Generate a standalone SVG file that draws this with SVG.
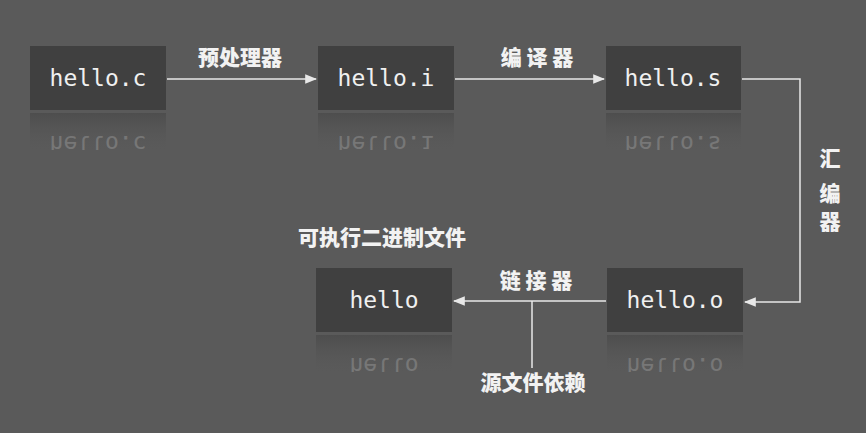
<svg xmlns="http://www.w3.org/2000/svg" width="866" height="433" viewBox="0 0 866 433">
<style>
.box{fill:#404040}
.t{font-family:"DejaVu Sans Mono","Liberation Mono",monospace;font-size:23px;fill:#f0f0f0;text-anchor:middle}
.r{font-family:"DejaVu Sans Mono","Liberation Mono",monospace;font-size:23px;fill:#f0f0f0;text-anchor:middle;opacity:0.2}
.lb{font-family:"Noto Sans CJK SC",sans-serif;font-size:21px;font-weight:900;fill:#f2f2f2;text-anchor:middle}
.ln{stroke:#e8e8e8;stroke-width:1.5;fill:none}
</style>
<defs>
<marker id="a" viewBox="0 0 10 10" refX="9" refY="5" markerWidth="8" markerHeight="8" orient="auto"><path d="M0,1 L10,5 L0,9 z" fill="#e8e8e8"/></marker>
<linearGradient id="rf" x1="0" y1="0" x2="0" y2="1"><stop offset="0" stop-color="#4a4a4a" stop-opacity="0.8"/><stop offset="1" stop-color="#5a5a5a" stop-opacity="0"/></linearGradient>
<clipPath id="c1"><rect x="0" y="112" width="866" height="38"/></clipPath>
<clipPath id="c2"><rect x="0" y="334" width="866" height="38"/></clipPath>
</defs>
<rect width="866" height="433" fill="#5a5a5a"/>
<g id="n-helloc"><rect class="box" x="30" y="46" width="136" height="64"/><rect x="30" y="113" width="136" height="40" fill="url(#rf)"/><text class="t" x="98" y="86">hello.c</text><g clip-path="url(#c1)"><text class="r" x="98" y="-136" transform="scale(1,-1)">hello.c</text></g></g>
<g id="n-helloi"><rect class="box" x="318" y="46" width="136" height="64"/><rect x="318" y="113" width="136" height="40" fill="url(#rf)"/><text class="t" x="386" y="86">hello.i</text><g clip-path="url(#c1)"><text class="r" x="386" y="-136" transform="scale(1,-1)">hello.i</text></g></g>
<g id="n-hellos"><rect class="box" x="606" y="46" width="135" height="64"/><rect x="606" y="113" width="135" height="40" fill="url(#rf)"/><text class="t" x="673" y="86">hello.s</text><g clip-path="url(#c1)"><text class="r" x="673" y="-136" transform="scale(1,-1)">hello.s</text></g></g>
<g id="n-helloo"><rect class="box" x="607" y="268" width="136" height="64"/><rect x="607" y="335" width="136" height="40" fill="url(#rf)"/><text class="t" x="675" y="308">hello.o</text><g clip-path="url(#c2)"><text class="r" x="675" y="-358" transform="scale(1,-1)">hello.o</text></g></g>
<g id="n-hello"><rect class="box" x="316" y="268" width="136" height="64"/><rect x="316" y="335" width="136" height="40" fill="url(#rf)"/><text class="t" x="384" y="308">hello</text><g clip-path="url(#c2)"><text class="r" x="384" y="-358" transform="scale(1,-1)">hello</text></g></g>
<g id="connectors">
<line class="ln" x1="167" y1="79" x2="316" y2="79" marker-end="url(#a)"/>
<line class="ln" x1="455" y1="79" x2="604" y2="79" marker-end="url(#a)"/>
<polyline class="ln" points="742,79 800,79 800,302 745,302" marker-end="url(#a)"/>
<line class="ln" x1="606" y1="301" x2="454" y2="301" marker-end="url(#a)"/>
<line class="ln" x1="532" y1="301" x2="532" y2="368"/>
</g>
<g id="labels">
<text class="lb" x="240" y="65">预处理器</text>
<text class="lb" x="537" y="65">编 译 器</text>
<text class="lb" x="830" y="166">汇</text>
<text class="lb" x="830" y="201">编</text>
<text class="lb" x="830" y="229">器</text>
<text class="lb" x="536" y="288">链 接 器</text>
<text class="lb" x="533" y="390">源文件依赖</text>
<text class="lb" x="382" y="245">可执行二进制文件</text>
</g>
</svg>
